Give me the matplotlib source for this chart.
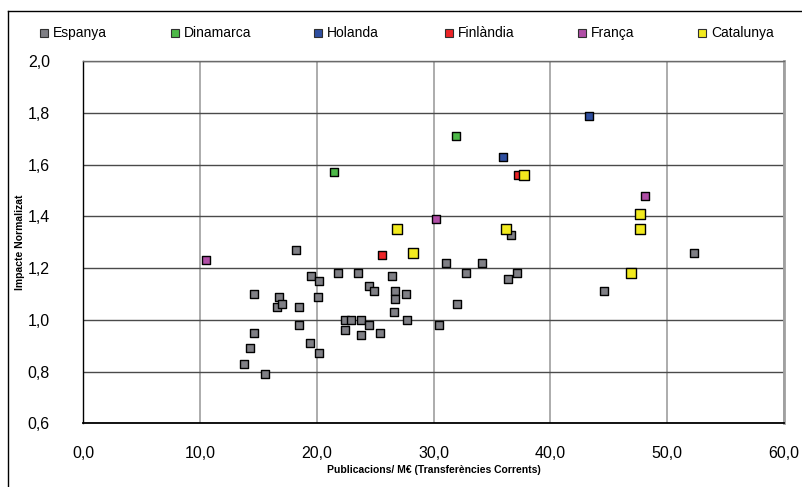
import numpy as np
import matplotlib
matplotlib.use('Agg')
import matplotlib.pyplot as plt
from matplotlib.lines import Line2D

plt.rcParams['font.family'] = ['Liberation Sans', 'DejaVu Sans']

# Dades llegides del gràfic
espanya_x = [18.2, 31.1, 34.1, 19.5, 20.2, 21.8, 23.5, 26.4, 32.8, 36.4, 37.1, 14.6,
             16.8, 16.6, 17.0, 18.5, 20.1, 24.5, 24.9, 26.7, 26.7, 27.6, 32.0, 26.6,
             22.4, 22.9, 23.8, 27.7, 24.5, 30.5, 18.5, 22.4, 23.8, 25.4, 14.6, 14.3,
             13.8, 15.6, 19.4, 20.2, 36.6, 52.3, 44.6]
espanya_y = [1.27, 1.22, 1.22, 1.17, 1.15, 1.18, 1.18, 1.17, 1.18, 1.16, 1.18, 1.10,
             1.09, 1.05, 1.06, 1.05, 1.09, 1.13, 1.11, 1.11, 1.08, 1.10, 1.06, 1.03,
             1.00, 1.00, 1.00, 1.00, 0.98, 0.98, 0.98, 0.96, 0.94, 0.95, 0.95, 0.89,
             0.83, 0.79, 0.91, 0.87, 1.33, 1.26, 1.11]
dinamarca_x = [21.5, 31.9]
dinamarca_y = [1.57, 1.71]
holanda_x = [35.9, 43.3]
holanda_y = [1.63, 1.79]
finlandia_x = [25.6, 37.2]
finlandia_y = [1.25, 1.56]
franca_x = [10.5, 30.2, 48.1]
franca_y = [1.23, 1.39, 1.48]
catalunya_x = [26.9, 28.2, 36.2, 37.7, 47.7, 47.7, 46.9]
catalunya_y = [1.35, 1.26, 1.35, 1.56, 1.41, 1.35, 1.18]

series = [
    ('Espanya', espanya_x, espanya_y, '#7f7f85', 34),
    ('Dinamarca', dinamarca_x, dinamarca_y, '#4db848', 30),
    ('Holanda', holanda_x, holanda_y, '#2f4fa0', 30),
    ('Finlàndia', finlandia_x, finlandia_y, '#ec2427', 30),
    ('França', franca_x, franca_y, '#b04ea6', 30),
    ('Catalunya', catalunya_x, catalunya_y, '#f2ea1e', 46),
]

W, H = 802, 487
fig = plt.figure(figsize=(W / 100, H / 100), dpi=100)
ax = fig.add_axes([83.3 / W, 1 - 423.3 / H, (784 - 83.3) / W, (423.3 - 61.3) / H])

for name, xs, ys, col, s in series:
    ax.scatter(xs, ys, s=s, marker='s', facecolor=col, edgecolor='black',
               linewidth=1.0, zorder=3)

ax.set_xlim(0, 60)
ax.set_ylim(0.6, 2.0)
ax.set_xticks(np.arange(0, 61, 10))
ax.set_yticks(np.arange(0.6, 2.01, 0.2))
ax.set_xticklabels([f'{v:.1f}'.replace('.', ',') for v in np.arange(0, 61, 10)])
ax.set_yticklabels([f'{v:.1f}'.replace('.', ',') for v in np.arange(0.6, 2.01, 0.2)])
ax.tick_params(axis='both', length=0, labelsize=11.5, colors='black')
ax.tick_params(axis='y', pad=24)
ax.tick_params(axis='x', pad=16)

ax.yaxis.grid(True, color='#4a4a4a', linewidth=1.0)
ax.xaxis.grid(True, color='#a6a6a6', linewidth=1.3)
ax.set_axisbelow(True)

ax.spines['left'].set_color('black')
ax.spines['left'].set_linewidth(1.0)
ax.spines['bottom'].set_color('black')
ax.spines['bottom'].set_linewidth(1.3)
ax.spines['right'].set_color('#a0a0a0')
ax.spines['right'].set_linewidth(2.0)
ax.spines['top'].set_color('#6a6a6a')
ax.spines['top'].set_linewidth(1.0)

ax.set_xlabel('Publicacions/ M€ (Transferències Corrents)', fontsize=7.5,
              fontweight='bold')
ax.set_ylabel('Impacte Normalizat', fontsize=7.5, fontweight='bold')
ax.yaxis.set_label_coords(-(83.3 - 25) / (784 - 83.3), 0.5)
ax.xaxis.set_label_coords(0.5, -(465 - 423.3) / (423.3 - 61.3))

# Llegenda manual a la part superior
leg_x = [44, 175, 318, 449, 582, 702]
leg_y = 1 - 33 / H
for (name, xs, ys, col, s), lx in zip(series, leg_x):
    fig.add_artist(Line2D([lx / W], [leg_y], marker='s', markersize=5.5,
                          markerfacecolor=col, markeredgecolor='#303030',
                          markeredgewidth=0.8, linestyle='none',
                          transform=fig.transFigure))
    fig.text((lx + 9) / W, leg_y, name, fontsize=10, va='center', ha='left')

# Marc exterior
fig.add_artist(Line2D([8 / W, 8 / W], [0, 1 - 11 / H], color='black', linewidth=1.0,
                      transform=fig.transFigure))
fig.add_artist(Line2D([8 / W, 1], [1 - 11 / H, 1 - 11 / H], color='black',
                      linewidth=1.0, transform=fig.transFigure))

fig.savefig('out.png', dpi=100)
